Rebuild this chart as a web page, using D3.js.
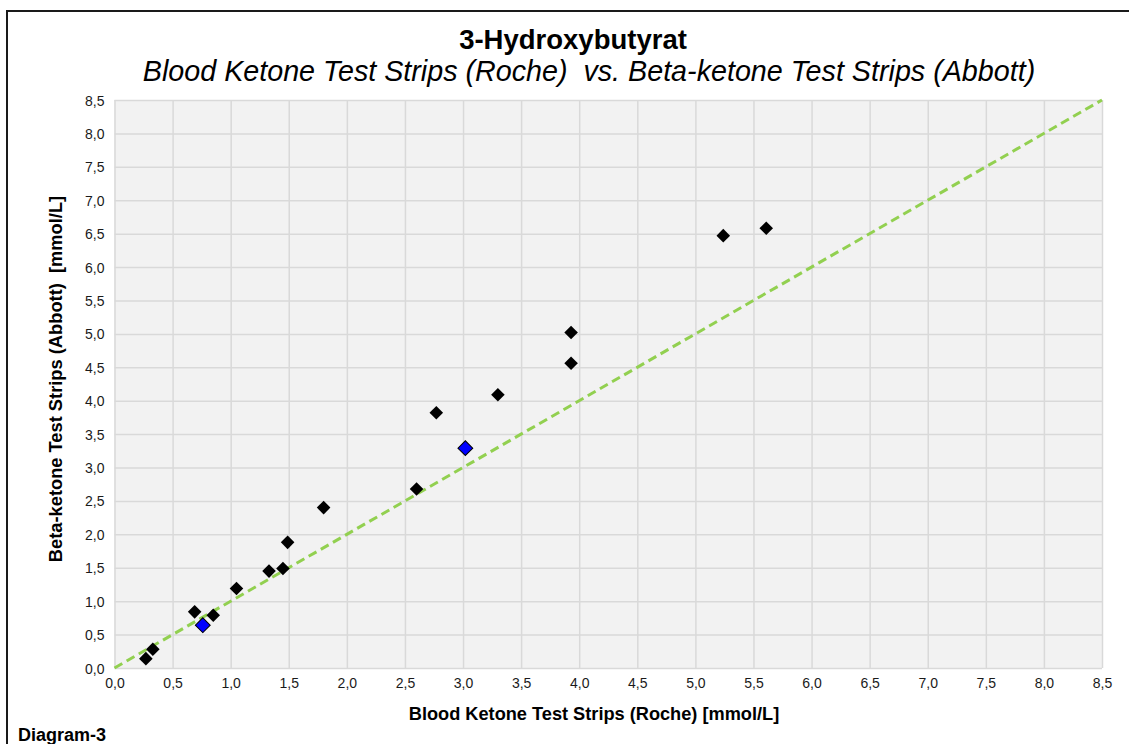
<!DOCTYPE html>
<html><head><meta charset="utf-8">
<script src="https://cdn.jsdelivr.net/npm/d3@7"></script>
<style>
html,body{margin:0;padding:0;background:#fff;}
svg{display:block;font-family:"Liberation Sans",Arial,sans-serif;}
</style></head>
<body><svg id="c" width="1129" height="744"></svg>
<script>
const title = "3-Hydroxybutyrat";
const subtitle = "Blood Ketone Test Strips (Roche)\u00a0\u00a0vs. Beta-ketone Test Strips (Abbott)";
const xLabel = "Blood Ketone Test Strips (Roche) [mmol/L]";
const yLabel = "Beta-ketone Test Strips (Abbott)\u00a0\u00a0[mmol/L]";
const footer = "Diagram-3";
const tickValues = [0,0.5,1,1.5,2,2.5,3,3.5,4,4.5,5,5.5,6,6.5,7,7.5,8,8.5];
const blackX = [0.27,0.33,0.69,0.85,1.05,1.33,1.45,1.49,1.80,2.60,2.77,3.30,3.93,3.93,5.24,5.61];
const blackY = [0.14,0.28,0.84,0.79,1.19,1.45,1.49,1.88,2.40,2.68,3.82,4.09,5.02,4.56,6.47,6.58];
const blueX = [0.76,3.02];
const blueY = [0.64,3.29];
const identityLine = [[0,0],[8.5,8.5]];

const svg = d3.select("#c");
const L=114.5, R=1102, T=100, B=668;
const x = d3.scaleLinear().domain([0,8.5]).range([L,R]);
const y = d3.scaleLinear().domain([0,8.5]).range([B,T]);
const fmt = d => d.toFixed(1).replace(".",",");

// outer border
svg.append("path").attr("d","M7,750 V11 H1140").attr("fill","none").attr("stroke","#1a1a1a").attr("stroke-width",2);

svg.append("rect").attr("x",L).attr("y",T).attr("width",R-L).attr("height",B-T).attr("fill","#f2f2f2");

// grid
const gx = svg.append("g").attr("transform",`translate(0,${B})`)
  .call(d3.axisBottom(x).tickValues(tickValues).tickSize(-(B-T)).tickFormat(fmt).tickPadding(8));
const gy = svg.append("g").attr("transform",`translate(${L},0)`)
  .call(d3.axisLeft(y).tickValues(tickValues).tickSize(-(R-L)).tickFormat(fmt).tickPadding(10));
[gx,gy].forEach(g=>{
  g.select(".domain").remove();
  g.selectAll(".tick line").attr("stroke","#d9d9d9").attr("stroke-width",1.5);
  g.selectAll(".tick text").attr("fill","#1a1a1a").attr("font-size",14).attr("font-family","Liberation Sans, Arial, sans-serif");
});
gx.selectAll(".tick text").attr("dy","0.85em");
gy.selectAll(".tick text").attr("dy","0.36em");

// identity line
svg.append("path").datum(identityLine)
  .attr("d", d3.line().x(d=>x(d[0])).y(d=>y(d[1])))
  .attr("fill","none").attr("stroke","#92d050").attr("stroke-width",3).attr("stroke-dasharray","9,5");

const diamond = d3.symbol().type(d3.symbolSquare);
const blackPts = blackX.map((v,i)=>[v,blackY[i]]);
const bluePts = blueX.map((v,i)=>[v,blueY[i]]);
svg.append("g").selectAll("path").data(blackPts).join("path")
  .attr("d", diamond.size(92)())
  .attr("transform", d=>`translate(${x(d[0])},${y(d[1])}) rotate(45)`)
  .attr("fill","#000");
svg.append("g").selectAll("path").data(bluePts).join("path")
  .attr("d", diamond.size(110)())
  .attr("transform", d=>`translate(${x(d[0])},${y(d[1])}) rotate(45)`)
  .attr("fill","#0000ff").attr("stroke","#000").attr("stroke-width",1);

// texts
svg.append("text").attr("x",573).attr("y",49).attr("text-anchor","middle")
  .attr("font-size",27.5).attr("font-weight","bold").attr("fill","#000").text(title);
svg.append("text").attr("x",589).attr("y",81).attr("text-anchor","middle")
  .attr("font-size",28.7).attr("font-style","italic").attr("fill","#000").text(subtitle);
svg.append("text").attr("x",594).attr("y",720).attr("text-anchor","middle")
  .attr("font-size",18.2).attr("font-weight","bold").attr("fill","#000").text(xLabel);
svg.append("text").attr("transform","translate(62,379) rotate(-90)").attr("text-anchor","middle")
  .attr("font-size",18.3).attr("font-weight","bold").attr("fill","#000").text(yLabel);
svg.append("text").attr("x",18).attr("y",741)
  .attr("font-size",18).attr("font-weight","bold").attr("fill","#000").text(footer);
</script></body></html>
